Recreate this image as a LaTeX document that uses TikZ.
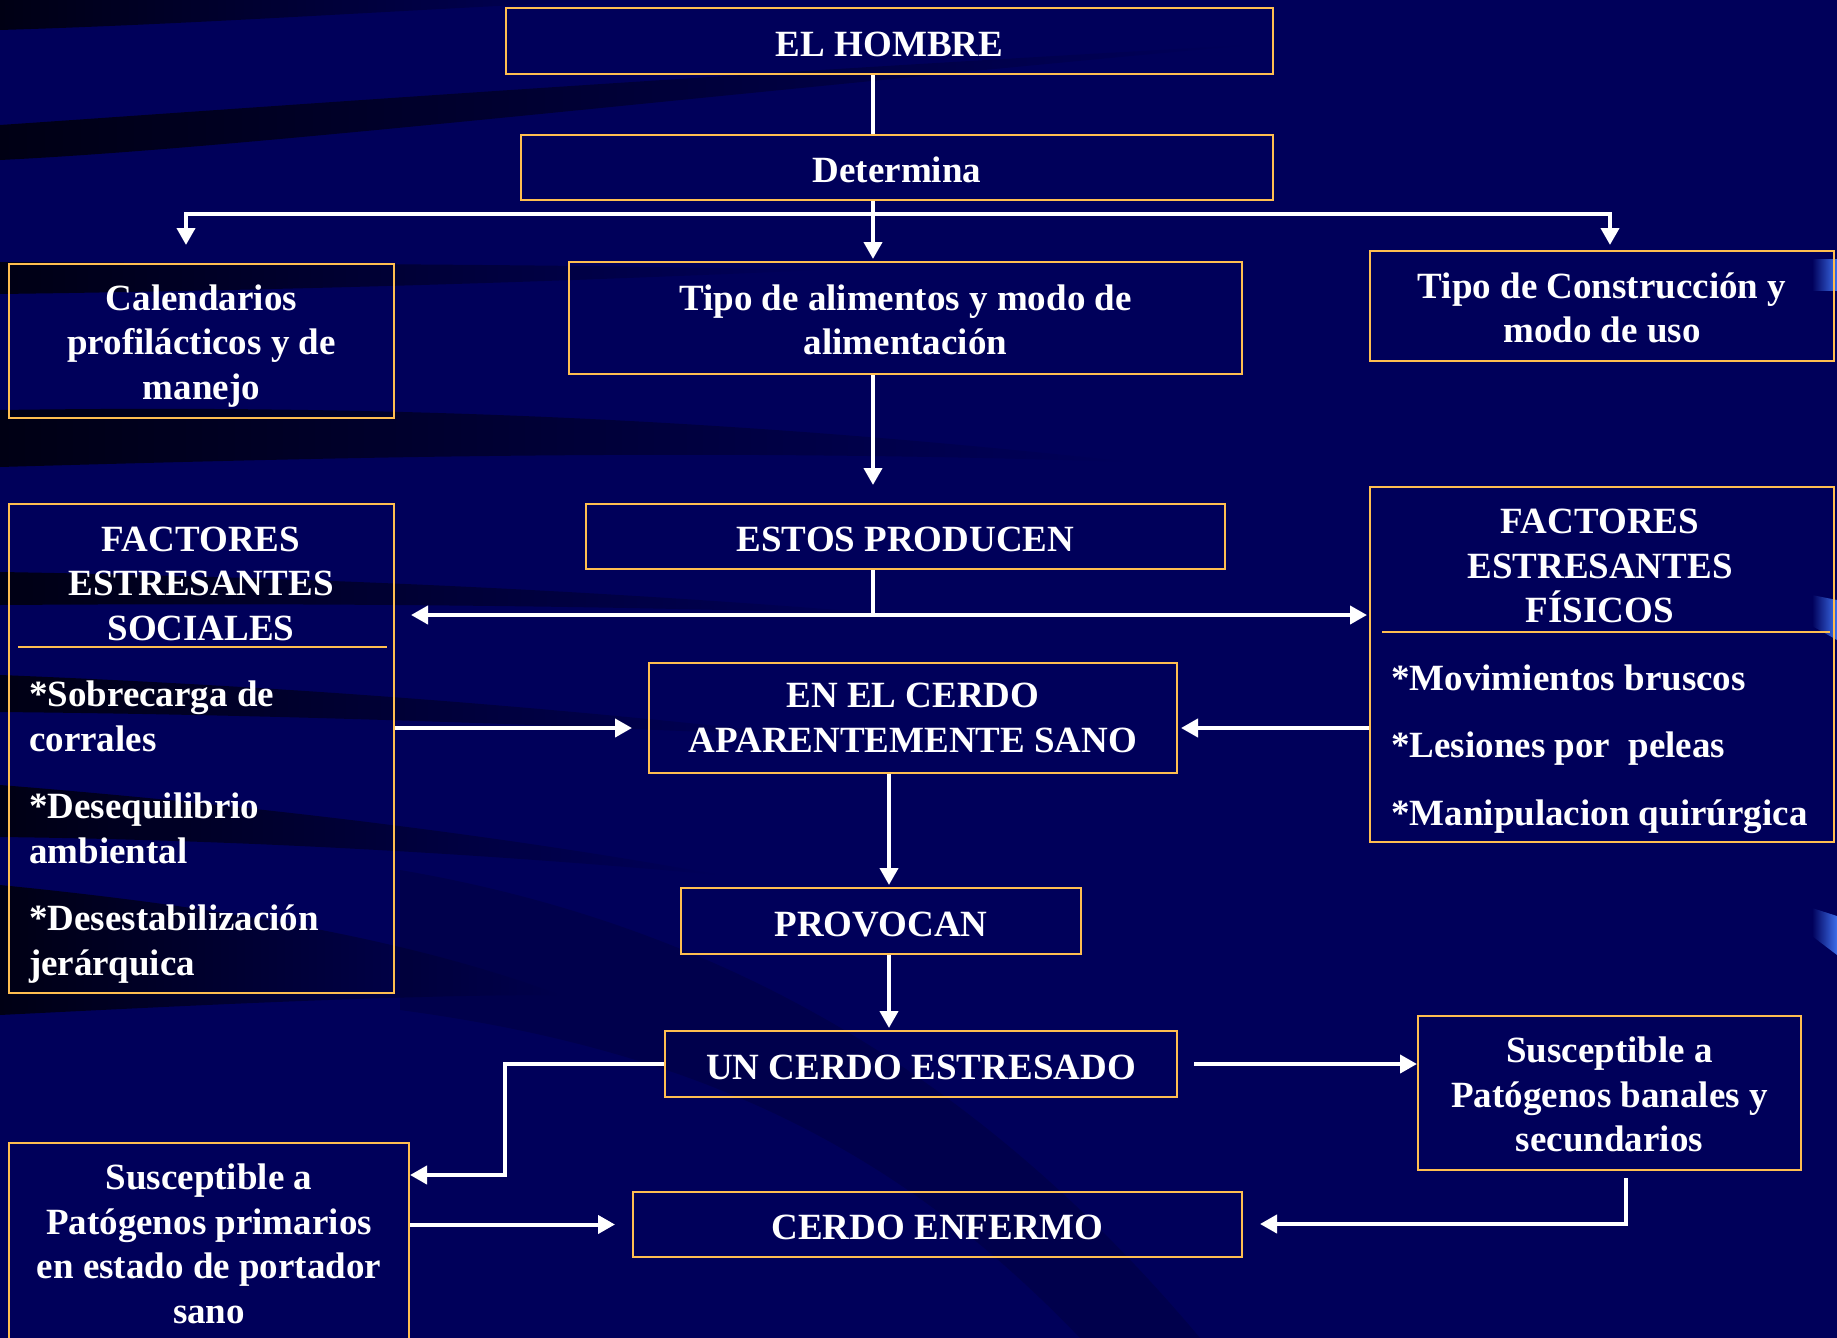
\documentclass[tikz,border=0pt]{standalone}
\usepackage{fontspec}
\setmainfont{Liberation Serif}
\usetikzlibrary{arrows.meta}

\definecolor{slidebg}{RGB}{0,0,90}
\definecolor{streak}{RGB}{0,0,20}
\definecolor{boxline}{RGB}{255,190,80}
\definecolor{glint}{RGB}{60,110,235}

\newcommand{\boxfont}{\fontsize{37}{44.5}\selectfont\bfseries}

\tikzset{
  box/.style={draw=boxline, line width=2pt, inner sep=0pt, text=white,
    align=center, font=\boxfont, execute at begin node={\rule{0pt}{31pt}}},
  txt/.style={inner sep=0pt, text=white, font=\boxfont},
  conn/.style={draw=white, line width=4pt},
  arr/.style={conn, -{Triangle[length=17pt,width=18pt]}},
  band/.style={left color=streak, right color=slidebg},
}

\begin{document}
\begin{tikzpicture}[x=1pt,y=-1pt]
  \useasboundingbox (0,0) rectangle (1837,1338);
  % background of the slide
  \fill[slidebg] (0,0) rectangle (1837,1338);
  \shade[band] (0,0) -- (0,30) .. controls (200,24) and (400,10) .. (620,0) -- cycle;
  \shade[band] (0,125) .. controls (250,108) and (700,75) .. (1250,45)
    .. controls (700,95) and (250,148) .. (0,160) -- cycle;
  \shade[band] (0,262) .. controls (300,264) and (550,264) .. (820,270)
    .. controls (550,282) and (300,290) .. (0,294) -- cycle;
  \shade[band] (0,410) .. controls (350,405) and (700,415) .. (1130,462)
    .. controls (700,448) and (350,457) .. (0,467) -- cycle;
  \shade[band] (0,572) .. controls (300,577) and (600,590) .. (900,615)
    .. controls (600,605) and (300,603) .. (0,605) -- cycle;
  \shade[band] (0,675) .. controls (300,687) and (550,707) .. (820,737)
    .. controls (550,725) and (300,715) .. (0,712) -- cycle;
  \shade[band] (0,785) .. controls (250,805) and (500,835) .. (720,875)
    .. controls (500,855) and (250,840) .. (0,837) -- cycle;
  \shade[band] (0,885) .. controls (200,905) and (400,935) .. (560,995)
    .. controls (400,995) and (200,1005) .. (0,1015) -- cycle;
  \fill[streak, opacity=0.2] (400,870) .. controls (750,930) and (1000,1100) .. (1200,1338)
    -- (1080,1338) .. controls (900,1150) and (700,1050) .. (400,1010) -- cycle;
  \shade[left color=slidebg, right color=glint] (1812,259) rectangle (1837,290);
  \shade[left color=slidebg, right color=glint] (1812,595) -- (1837,600) -- (1837,640) -- (1812,626) -- cycle;
  \shade[left color=slidebg, right color=glint] (1812,908) -- (1837,916) -- (1837,955) -- (1812,936) -- cycle;

  % boxes
  \node[box, minimum width=767pt, minimum height=66pt] (hombre) at (889.5,41) {EL HOMBRE};
  \node[box, minimum width=752pt, minimum height=65pt] (determina) at (897,167.5) {Determina};
  \node[box, minimum width=385pt, minimum height=154pt] (calend) at (201.5,341)
    {\rule{0pt}{35pt}Calendarios\\profilácticos y de\\manejo};
  \node[box, minimum width=673pt, minimum height=112pt] (alim) at (905.5,318)
    {\rule{0pt}{29pt}Tipo de alimentos y modo de\\alimentación};
  \node[box, minimum width=464pt, minimum height=110pt] (constr) at (1602,306)
    {\rule{0pt}{29pt}Tipo de Construcción y\\modo de uso};
  \node[box, minimum width=639pt, minimum height=65pt] (estos) at (905.5,536.5) {ESTOS PRODUCEN};
  \node[box, minimum width=385pt, minimum height=489pt] (sociales) at (201.5,748.5) {};
  \node[txt, align=center] (soctit) at (201,583.5) {FACTORES\\ESTRESANTES\\SOCIALES};
  \node[txt, align=left, anchor=west] (soclist) at (29,832)
    {*Sobrecarga de\\corrales\\[23pt]*Desequilibrio\\ambiental\\[23pt]*Desestabilización\\jerárquica};
  \draw[boxline, line width=2pt] (18,647) -- (387,647);
  \node[box, minimum width=464pt, minimum height=355pt] (fisicos) at (1602,664.5) {};
  \node[txt, align=center] (fistit) at (1600,566) {FACTORES\\ESTRESANTES\\FÍSICOS};
  \node[txt, align=left, anchor=west] (fislist) at (1391,749)
    {*Movimientos bruscos\\[23pt]*Lesiones por\ \ peleas\\[23pt]*Manipulacion quirúrgica};
  \draw[boxline, line width=2pt] (1382,632) -- (1830,632);
  \node[box, minimum width=528pt, minimum height=110pt] (sano) at (913,718)
    {EN EL CERDO\\APARENTEMENTE SANO};
  \node[box, minimum width=400pt, minimum height=66pt] (provocan) at (881,921) {PROVOCAN};
  \node[box, minimum width=512pt, minimum height=66pt] (estresado) at (921,1064) {UN CERDO ESTRESADO};
  \node[box, minimum width=383pt, minimum height=154pt] (banales) at (1609.5,1093)
    {\rule{0pt}{29pt}Susceptible a\\Patógenos banales y\\secundarios};
  \node[box, minimum width=609pt, minimum height=65pt] (enfermo) at (937.5,1224.5) {CERDO ENFERMO};
  \node[box, minimum width=400pt, minimum height=202pt] (primarios) at (209,1244)
    {Susceptible a\\Patógenos primarios\\en estado de portador\\sano};

  % connectors
  \coordinate (trunk) at (873,214);
  \coordinate (busL) at (186,214);
  \coordinate (busR) at (1610,214);
  \coordinate (split) at (873,615);
  \coordinate (feed) at (0,728);
  \coordinate (stem) at (889,0);
  \coordinate (elbow) at (505,1175);
  \coordinate (drop) at (1626,1224);
  \draw[conn] (hombre.south -| trunk) -- (determina.north -| trunk);
  \draw[arr, shorten >=18pt] (trunk) -- (busL) -- (calend.north -| busL);
  \draw[arr, shorten >=5pt] (trunk) -- (busR) -- (constr.north -| busR);
  \draw[arr, shorten >=2pt] (determina.south -| trunk) -- (alim.north -| trunk);
  \draw[arr, shorten >=18pt] (alim.south -| trunk) -- (estos.north -| trunk);
  \draw[conn] (estos.south -| trunk) -- (split);
  \draw[arr, {Triangle[length=17pt,width=18pt]}-{Triangle[length=17pt,width=18pt]},
    shorten <=16pt, shorten >=2pt] (sociales.east |- split) -- (fisicos.west |- split);
  \draw[arr, shorten >=16pt] (sociales.east |- feed) -- (sano.west |- feed);
  \draw[arr, shorten >=3pt] (fisicos.west |- feed) -- (sano.east |- feed);
  \draw[arr, shorten >=2pt] (sano.south -| stem) -- (provocan.north -| stem);
  \draw[arr, shorten >=2pt] (provocan.south -| stem) -- (estresado.north -| stem);
  \draw[arr] (estresado.west) -| (elbow) -- (primarios.east |- elbow);
  \draw[arr, shorten <=16pt] (estresado.east) -- (banales.west |- estresado);
  \draw[arr, shorten <=7pt, shorten >=17pt] (banales.south -| drop) -- (drop) -- (enfermo.east |- drop);
  \draw[arr, shorten >=17pt] (primarios.east |- enfermo) -- (enfermo.west);
\end{tikzpicture}
\end{document}
